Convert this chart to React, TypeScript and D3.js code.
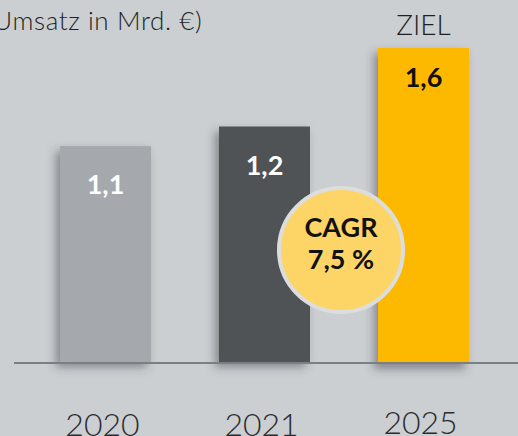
import React, { useEffect, useRef } from "react";
import * as d3 from "d3";

const years = ["2020", "2021", "2025"];
const values = [1.1, 1.2, 1.6];
const labels = ["1,1", "1,2", "1,6"];
const barColors = ["#a5a8ac", "#4f5257", "#fdb900"];
const labelColors = ["#ffffff", "#ffffff", "#111111"];
const unitLabel = "(Umsatz in Mrd. €)";
const targetLabel = "ZIEL";
const cagrLines = ["CAGR", "7,5 %"];

export default function App() {
    const svgRef = useRef<SVGSVGElement>(null);

    useEffect(() => {
        const svg = d3.select(svgRef.current);
        const width = 518;
        const height = 436;
        const baseY = 362;

        svg.attr("width", width).attr("height", height);
        svg.selectAll("*").remove();

        // schatten für die balken
        const defs = svg.append("defs");
        const f = defs
            .append("filter")
            .attr("id", "shadow")
            .attr("x", "-30%")
            .attr("y", "-10%")
            .attr("width", "160%")
            .attr("height", "130%");
        f.append("feDropShadow")
            .attr("dx", -4)
            .attr("dy", 5)
            .attr("stdDeviation", 5)
            .attr("flood-color", "#3a3d42")
            .attr("flood-opacity", 0.5);

        svg.append("rect").attr("width", width).attr("height", height).attr("fill", "#cbcfd2");

        const x = d3.scaleBand().domain(years).range([60, 469]).paddingInner(0.428).paddingOuter(0);
        const y = d3.scaleLinear().domain([0, 1.6]).range([baseY, 48]);

        const data = years.map((yr, i) => ({ yr, v: values[i], i }));

        // balken
        svg.append("g")
            .selectAll("rect")
            .data(data)
            .join("rect")
            .attr("x", (d) => x(d.yr)!)
            .attr("y", (d) => y(d.v))
            .attr("width", x.bandwidth())
            .attr("height", (d) => y(0) - y(d.v) + (d.i === 2 ? 2 : 0))
            .attr("fill", (d) => barColors[d.i])
            .attr("filter", "url(#shadow)");

        // grundlinie
        svg.append("line")
            .attr("x1", 14)
            .attr("x2", width)
            .attr("y1", baseY + 1)
            .attr("y2", baseY + 1)
            .attr("stroke", "#7b7f85")
            .attr("stroke-width", 2);

        // werte
        svg.append("g")
            .selectAll("text")
            .data(data)
            .join("text")
            .attr("x", (d) => x(d.yr)! + x.bandwidth() / 2)
            .attr("y", (d) => y(d.v) + (d.i === 2 ? 39 : 48))
            .attr("text-anchor", "middle")
            .attr("font-family", "Lato")
            .attr("font-weight", 700)
            .attr("font-size", 27)
            .attr("fill", (d) => labelColors[d.i])
            .text((d) => labels[d.i]);

        // jahre
        svg.append("g")
            .selectAll("text")
            .data(data)
            .join("text")
            .attr("x", (d) => x(d.yr)! + x.bandwidth() / 2 - 3)
            .attr("y", (d) => (d.i === 2 ? 434 : 436))
            .attr("text-anchor", "middle")
            .attr("font-family", "Lato")
            .attr("font-weight", 300)
            .attr("font-size", 32)
            .attr("fill", "#2a2b2e")
            .text((d) => d.yr);

        // ziel
        svg.append("text")
            .attr("x", x("2025")! + x.bandwidth() / 2)
            .attr("y", 35)
            .attr("text-anchor", "middle")
            .attr("font-family", "Lato")
            .attr("font-weight", 300)
            .attr("font-size", 28)
            .attr("fill", "#1e1f22")
            .text(targetLabel);

        // einheit
        svg.append("text")
            .attr("x", -14)
            .attr("y", 30)
            .attr("font-family", "Lato")
            .attr("font-weight", 300)
            .attr("font-size", 26)
            .attr("letter-spacing", 0.6)
            .attr("fill", "#1e1f22")
            .text(unitLabel);

        // cagr kreis
        const cx = 341;
        const cy = 250;
        svg.append("circle")
            .attr("cx", cx)
            .attr("cy", cy)
            .attr("r", 62)
            .attr("fill", "#fdd567")
            .attr("stroke", "#dcdddd")
            .attr("stroke-width", 4);

        cagrLines.forEach((t, i) => {
            svg.append("text")
                .attr("x", cx)
                .attr("y", 237 + i * 32)
                .attr("text-anchor", "middle")
                .attr("font-family", "Lato")
                .attr("font-weight", 700)
                .attr("font-size", 27)
                .attr("fill", "#111111")
                .text(t);
        });
    }, []);

    return <svg ref={svgRef} style={{ position: "fixed", left: 0, top: 0 }}></svg>;
}
